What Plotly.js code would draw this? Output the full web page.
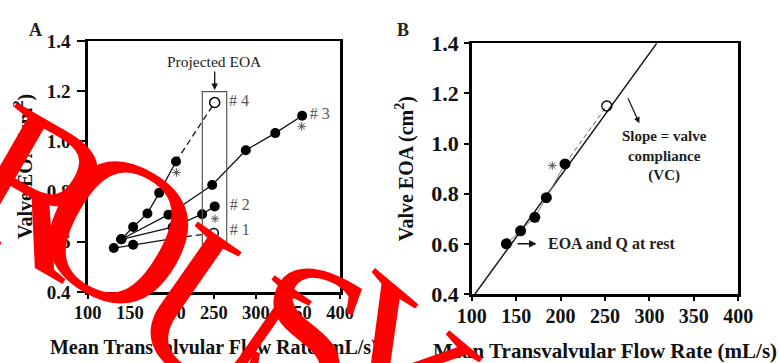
<!DOCTYPE html>
<html>
<head>
<meta charset="utf-8">
<script src="https://cdn.plot.ly/plotly-3.0.1.min.js"></script>
<style>html,body{margin:0;padding:0;background:#fff;}#chart{width:779px;height:363px;}</style>
</head>
<body>
<div id="chart"></div>
<script>
// ---- Panel A data (Mean transvalvular flow rate mL/s vs valve EOA cm2) ----
const p1Flow = [131, 154, 205];
const p1EOA  = [0.575, 0.588, 0.615];
const p1ProjFlow = [205, 250];
const p1ProjEOA  = [0.615, 0.635];

const p2Flow = [140, 201, 236, 251];
const p2EOA  = [0.61, 0.658, 0.71, 0.741];

const p3Flow = [140, 196, 248, 288, 323, 355];
const p3EOA  = [0.61, 0.708, 0.826, 0.965, 1.033, 1.102];

const p4Flow = [140, 154, 171, 185, 205];
const p4EOA  = [0.61, 0.659, 0.713, 0.795, 0.92];
const p4ProjFlow = [205, 251];
const p4ProjEOA  = [0.92, 1.155];

const astAFlow = [205.5, 354.5, 251.4, 204.6];
const astAEOA  = [0.876, 1.06, 0.692, 0.566];

const seriesLabels = ['# 1', '# 2', '# 3', '# 4'];
const labelFlow = [269, 269, 364, 268];
const labelEOA  = [0.645, 0.742, 1.106, 1.158];

// ---- Panel B data ----
const bFlow = [139, 155, 171, 184, 205];
const bEOA  = [0.60, 0.652, 0.706, 0.784, 0.919];
const bProjFlow = [205, 252];
const bProjEOA  = [0.919, 1.15];
const fitFlow = [103.7, 308.2];
const fitEOA  = [0.4, 1.4];
const astBFlow = [190.7];
const astBEOA  = [0.912];

const xTicks = [100, 150, 200, 250, 300, 350, 400];
const yTicks = [0.4, 0.6, 0.8, 1.0, 1.2, 1.4];

const W = 779, H = 363;
const px = v => v / W;
const py = v => 1 - v / H;

const SERIF = '"Liberation Serif", "Times New Roman", serif';
const dot = {color: '#000', size: 10};
const ln = {color: '#111', width: 1.3};

const traces = [
  // Panel A
  {x: p1Flow, y: p1EOA, mode: 'lines+markers', marker: dot, line: ln, xaxis: 'x', yaxis: 'y'},
  {x: p1ProjFlow, y: p1ProjEOA, mode: 'lines', line: {color: '#111', width: 1.3, dash: '6px,4px'}, xaxis: 'x', yaxis: 'y'},
  {x: [p1ProjFlow[1]], y: [p1ProjEOA[1]], mode: 'markers', marker: {symbol: 'circle-open', size: 9, color: '#000', line: {width: 1.5}}, xaxis: 'x', yaxis: 'y'},
  {x: p2Flow, y: p2EOA, mode: 'lines+markers', marker: dot, line: ln, xaxis: 'x', yaxis: 'y'},
  {x: p3Flow, y: p3EOA, mode: 'lines+markers', marker: dot, line: ln, xaxis: 'x', yaxis: 'y'},
  {x: p4Flow, y: p4EOA, mode: 'lines+markers', marker: dot, line: ln, xaxis: 'x', yaxis: 'y'},
  {x: p4ProjFlow, y: p4ProjEOA, mode: 'lines', line: {color: '#111', width: 1.3, dash: '6px,4px'}, xaxis: 'x', yaxis: 'y'},
  {x: [p4ProjFlow[1]], y: [p4ProjEOA[1]], mode: 'markers', marker: {symbol: 'circle-open', size: 10, color: '#000', line: {width: 1.5}}, xaxis: 'x', yaxis: 'y'},
  {x: astAFlow, y: astAEOA, mode: 'markers', marker: {symbol: 'asterisk-open', size: 7, color: '#555', line: {color: '#555', width: 1}}, xaxis: 'x', yaxis: 'y'},
  {x: labelFlow, y: labelEOA, mode: 'text', text: seriesLabels, textposition: 'middle right', textfont: {family: SERIF, size: 16, color: '#555'}, xaxis: 'x', yaxis: 'y'},
  // Panel B
  {x: fitFlow, y: fitEOA, mode: 'lines', line: {color: '#111', width: 1.4}, xaxis: 'x2', yaxis: 'y2'},
  {x: bProjFlow, y: bProjEOA, mode: 'lines', line: {color: '#666', width: 1, dash: '5px,3px'}, xaxis: 'x2', yaxis: 'y2'},
  {x: bFlow, y: bEOA, mode: 'lines+markers', marker: {color: '#000', size: 11}, line: {color: '#777', width: 1}, xaxis: 'x2', yaxis: 'y2'},
  {x: [bProjFlow[1]], y: [bProjEOA[1]], mode: 'markers', marker: {symbol: 'circle-open', size: 10, color: '#000', line: {width: 1.3}}, xaxis: 'x2', yaxis: 'y2'},
  {x: astBFlow, y: astBEOA, mode: 'markers', marker: {symbol: 'asterisk-open', size: 7, color: '#555', line: {color: '#555', width: 1}}, xaxis: 'x2', yaxis: 'y2'}
];

function xAxis(dom, tickSize, titleSize) {
  return {
    domain: dom, range: [100, 400], tickvals: xTicks, ticktext: xTicks.map(String),
    showgrid: false, zeroline: false, showline: true, linecolor: '#000', linewidth: 2.5, mirror: true,
    ticks: 'outside', ticklen: 4, tickwidth: 2, tickcolor: '#000', ticklabelstandoff: -2,
    tickfont: {family: SERIF, size: tickSize, color: '#111', weight: 'bold'},
    title: {text: 'Mean Transvalvular Flow Rate (mL/s)', standoff: 19, font: {family: SERIF, size: titleSize, color: '#111', weight: 'bold'}},
    automargin: false, fixedrange: true
  };
}
function yAxis(dom, tickSize, tickLen, lblOff, titleOff) {
  return {
    domain: dom, range: [0.4, 1.4], tickvals: yTicks, ticktext: yTicks.map(v => v.toFixed(1)),
    showgrid: false, zeroline: false, showline: true, linecolor: '#000', linewidth: 2.5, mirror: true,
    ticks: 'outside', ticklen: tickLen, tickwidth: 2, tickcolor: '#000', ticklabelstandoff: lblOff,
    tickfont: {family: SERIF, size: tickSize, color: '#111', weight: 'bold'},
    title: {text: 'Valve EOA (cm<sup>2</sup>)', standoff: titleOff, font: {family: SERIF, size: 20, color: '#111', weight: 'bold'}},
    automargin: false, fixedrange: true
  };
}

const wm = (ch, cx, cy, ang) => ({
  xref: 'paper', yref: 'paper', x: px(cx), y: py(cy), text: ch, showarrow: false,
  xanchor: 'center', yanchor: 'middle', textangle: ang,
  font: {family: SERIF, size: 205, color: '#ff0000'}
});

const layout = {
  width: W, height: H, margin: {l: 0, r: 0, t: 0, b: 0},
  paper_bgcolor: '#fff', plot_bgcolor: '#fff', showlegend: false,
  xaxis: xAxis([px(87.7), px(340)], 18.5, 20),
  yaxis: yAxis([py(292), py(41)], 19, 8, 3, 9),
  xaxis2: Object.assign(xAxis([px(471.7), px(738.3)], 20, 21), {anchor: 'y2'}),
  yaxis2: Object.assign(yAxis([py(294), py(43.3)], 22, 5, 1, 13), {anchor: 'x2'}),
  shapes: [
    {type: 'rect', xref: 'x', yref: 'y', x0: 236.3, x1: 265.3, y0: 0.591, y1: 1.198, line: {color: '#555', width: 1.2}}
  ],
  annotations: [
    {xref: 'paper', yref: 'paper', x: px(27), y: py(18), text: '<b>A</b>', showarrow: false, font: {family: SERIF, size: 18, color: '#222'}},
    {xref: 'paper', yref: 'paper', x: px(403), y: py(18), text: '<b>B</b>', showarrow: false, font: {family: SERIF, size: 18, color: '#222'}},
    {xref: 'x', yref: 'y', x: 251, y: 1.205, axref: 'x', ayref: 'y', ax: 251, ay: 1.318, text: 'Projected EOA',
     showarrow: true, arrowhead: 2, arrowsize: 1, arrowwidth: 1.3, arrowcolor: '#111',
     font: {family: SERIF, size: 15.5, color: '#222'}},
    {xref: 'x2', yref: 'y2', x: 173, y: 0.6, axref: 'x2', ayref: 'y2', ax: 150, ay: 0.6, text: '',
     showarrow: true, arrowhead: 2, arrowsize: 1, arrowwidth: 1.5, arrowcolor: '#111'},
    {xref: 'x2', yref: 'y2', x: 184, y: 0.6, text: '<b>EOA and Q at rest</b>', showarrow: false, xanchor: 'left',
     font: {family: SERIF, size: 16, color: '#222'}},
    {xref: 'x2', yref: 'y2', x: 288.6, y: 1.081, axref: 'x2', ayref: 'y2', ax: 275.1, ay: 1.187, text: '',
     showarrow: true, arrowhead: 2, arrowsize: 1, arrowwidth: 1.2, arrowcolor: '#111'},
    {xref: 'x2', yref: 'y2', x: 317, y: 0.95, text: '<b>Slope = valve<br>compliance<br>(VC)</b>', showarrow: false,
     font: {family: SERIF, size: 15, color: '#222'}},
    // red watermark overlay seen in the reference
    wm('R', 38, 190, 30), wm('O', 120, 230, 30), wm('U', 218, 314, 35), wm('S', 306, 334, 20), wm('Y', 388, 364, 40)
  ]
};

Plotly.newPlot('chart', traces, layout, {displayModeBar: false, staticPlot: true});
</script>
</body>
</html>
